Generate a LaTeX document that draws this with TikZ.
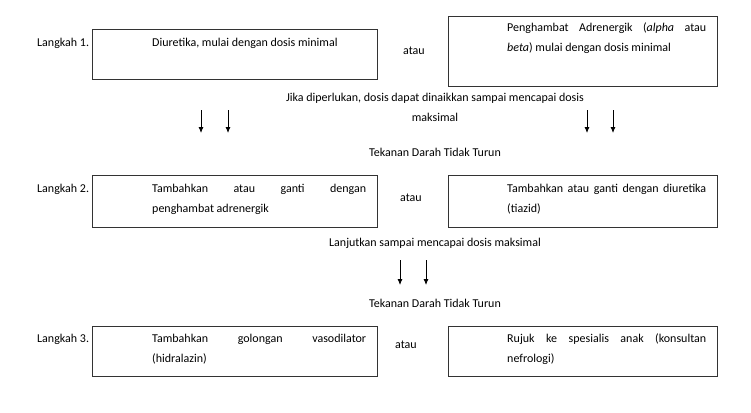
\documentclass[tikz,border=0pt]{standalone}
\usepackage{fontspec}
\setmainfont{Carlito}
\usetikzlibrary{arrows.meta,positioning}

\begin{document}
\begin{tikzpicture}[x=1pt,y=-1pt,>={Latex[length=6pt,width=5pt]},every node/.append style={font=\fontsize{12}{20}\selectfont,inner sep=0pt},stepbox/.style={draw=black!80, line width=0.8pt, minimum width=285pt, minimum height=50pt, anchor=north west},altbox/.style={draw=black!80, line width=0.8pt, minimum width=269pt, anchor=north west},
  boxtext/.style={anchor=base west, align=justify},lbl/.style={anchor=base west},note/.style={anchor=base, align=center},down/.style={->, line width=0.8pt}]
    \useasboundingbox (0,0) rectangle (751,412);
    % Langkah 1
    \node [lbl] (L1) at (37,46) {Langkah 1.};
    \node [stepbox] (D1) at (92,29) {};
    \node [boxtext, text width=214pt] (D1t) at (152,46) {Diuretika, mulai dengan dosis minimal};
    \node [lbl] (or1) at (403,54) {atau};
    \node [altbox, minimum height=70pt] (A1) at (448,16) {};
    \node [boxtext, text width=199pt] (A1t) at (507,32) {Penghambat Adrenergik (\textit{alpha} atau\linebreak \textit{beta}) mulai dengan dosis minimal};
    \node [note] (N1) at (435,121) {Jika diperlukan, dosis dapat dinaikkan sampai mencapai dosis\\maksimal};
    \foreach \x/\n in {201/a,228/b,587/c,613/d}{
      \coordinate (top\n) at (\x,110);
      \coordinate (bot\n) at (\x,133);
      \draw [down] (top\n) -- (bot\n);
    }
    \node [note] (T1) at (435,156) {Tekanan Darah Tidak Turun};
    % Langkah 2
    \node [lbl] (L2) at (37,192) {Langkah 2.};
    \node [stepbox, minimum height=52pt] (D2) at (92,175) {};
    \node [boxtext, text width=214pt] (D2t) at (152,192) {Tambahkan atau ganti dengan\linebreak penghambat adrenergik};
    \node [lbl] (or2) at (400,201) {atau};
    \node [altbox, minimum height=52pt] (A2) at (448,175) {};
    \node [boxtext, text width=199pt] (A2t) at (507,192) {Tambahkan atau ganti dengan diuretika\linebreak (tiazid)};
    \node [note] (N2) at (435,246) {Lanjutkan sampai mencapai dosis maksimal};
    \foreach \x/\n in {400/e,426/f}{
      \coordinate (top\n) at (\x,260);
      \coordinate (bot\n) at (\x,285);
      \draw [down] (top\n) -- (bot\n);
    }
    \node [note] (T2) at (435,307) {Tekanan Darah Tidak Turun};
    % Langkah 3
    \node [lbl] (L3) at (37,342) {Langkah 3.};
    \node [stepbox] (D3) at (92,326) {};
    \node [boxtext, text width=214pt] (D3t) at (152,342) {Tambahkan golongan vasodilator\linebreak (hidralazin)};
    \node [lbl] (or3) at (395,348) {atau};
    \node [altbox, minimum height=50pt] (A3) at (448,326) {};
    \node [boxtext, text width=199pt] (A3t) at (507,342) {Rujuk ke spesialis anak (konsultan\linebreak nefrologi)};
\end{tikzpicture}
\end{document}
